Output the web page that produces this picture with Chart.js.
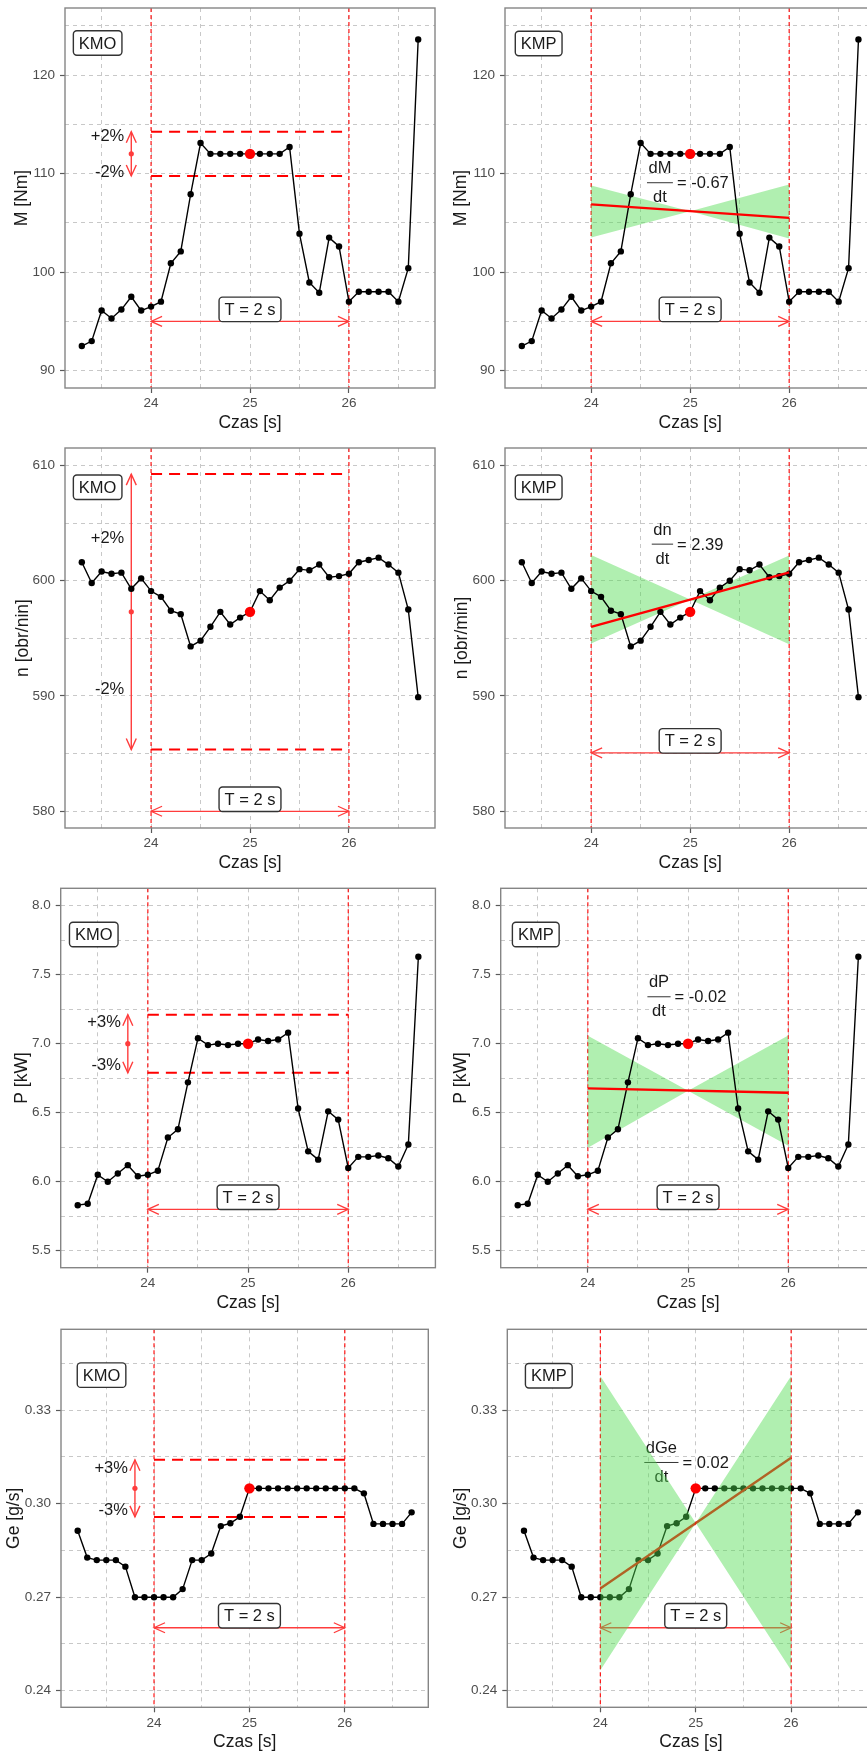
<!DOCTYPE html>
<html>
<head>
<meta charset="utf-8">
<script src="https://cdn.jsdelivr.net/npm/chart.js@4.4.1/dist/chart.umd.min.js"></script>
<style>
html,body{margin:0;padding:0;background:#fff;overflow:hidden;width:867px;height:1753px;position:relative;}
canvas{position:absolute;display:block;}
</style>
</head>
<body>
<script>
// ---------------- data ----------------
const timeMain = [23.3,23.4,23.5,23.6,23.7,23.8,23.9,24.0,24.1,24.2,24.3,24.4,24.5,24.6,24.7,24.8,24.9,25.0,25.1,25.2,25.3,25.4,25.5,25.6,25.7,25.8,25.9,26.0,26.1,26.2,26.3,26.4,26.5,26.6,26.7];
const timeGe = [23.2,23.3,23.4,23.5,23.6,23.7,23.8,23.9,24.0,24.1,24.2,24.3,24.4,24.5,24.6,24.7,24.8,24.9,25.0,25.1,25.2,25.3,25.4,25.5,25.6,25.7,25.8,25.9,26.0,26.1,26.2,26.3,26.4,26.5,26.6,26.7];

const torqueM = [92.5,93.0,96.1,95.3,96.2,97.5,96.1,96.5,97.0,100.9,102.1,107.9,113.1,112.0,112.0,112.0,112.0,112.0,112.0,112.0,112.0,112.7,103.9,98.95,97.9,103.5,102.6,97.0,98.0,98.0,98.0,98.0,97.0,100.4,123.6];
const speedN = [601.6,599.8,600.8,600.6,600.7,599.3,600.2,599.1,598.6,597.4,597.1,594.3,594.8,596.0,597.3,596.2,596.8,597.3,599.1,598.3,599.4,600.0,601.0,600.9,601.4,600.3,600.4,600.6,601.6,601.8,602.0,601.4,600.7,597.5,589.9];
const powerP = [5.83,5.84,6.05,6.00,6.06,6.12,6.04,6.05,6.08,6.32,6.38,6.72,7.04,6.99,7.00,6.99,7.00,7.00,7.03,7.02,7.03,7.08,6.53,6.22,6.16,6.51,6.45,6.10,6.18,6.18,6.19,6.17,6.11,6.27,7.63];
const fuelGe = [0.2913,0.2827,0.2819,0.2819,0.2819,0.2798,0.2700,0.2700,0.2700,0.2700,0.2700,0.2726,0.2819,0.2819,0.2840,0.2928,0.2937,0.2958,0.3049,0.3049,0.3049,0.3049,0.3049,0.3049,0.3049,0.3049,0.3049,0.3049,0.3049,0.3049,0.3033,0.2935,0.2935,0.2935,0.2935,0.2972];

const refTime = 25.0;
const windowEdges = [24, 26];

// regression lines (at x = fitX) and confidence bow-ties (at x = bandX)
const fitX = [24, 26];
const bandX = [24, 25, 26];
const fitM = [106.87, 105.5];
const bandUpM = [108.8, 106.18, 108.9];
const bandLoM = [103.5, 106.18, 103.4];
const fitN = [596.0, 600.73];
const bandUpN = [602.24, 598.37, 602.18];
const bandLoN = [594.56, 598.37, 594.48];
const fitP = [6.676, 6.645];
const bandUpP = [7.058, 6.66, 7.06];
const bandLoP = [6.246, 6.66, 6.26];
const fitGe = [0.2728, 0.3147];
const bandUpGe = [0.3409, 0.2938, 0.3409];
const bandLoGe = [0.2466, 0.2938, 0.2466];

// tick labels and grid values
const timeTicks = [24, 25, 26];
const timeTickLabels = ['24', '25', '26'];
const timeGrid = [23.5, 24, 24.5, 25, 25.5, 26, 26.5];
const mTicks = [90, 100, 110, 120];
const mTickLabels = ['90', '100', '110', '120'];
const mGrid = [90, 95, 100, 105, 110, 115, 120, 125];
const nTicks = [580, 590, 600, 610];
const nTickLabels = ['580', '590', '600', '610'];
const nGrid = [580, 585, 590, 595, 600, 605, 610];
const pTicks = [5.5, 6.0, 6.5, 7.0, 7.5, 8.0];
const pTickLabels = ['5.5', '6.0', '6.5', '7.0', '7.5', '8.0'];
const pGrid = [5.5, 5.75, 6.0, 6.25, 6.5, 6.75, 7.0, 7.25, 7.5, 7.75, 8.0];
const geTicks = [0.24, 0.27, 0.30, 0.33];
const geTickLabels = ['0.24', '0.27', '0.30', '0.33'];
const geGrid = [0.24, 0.255, 0.27, 0.285, 0.30, 0.315, 0.33, 0.345];

// ---------------- panels ----------------
const FONT = '"Liberation Sans", Arial, Helvetica, sans-serif';
const GREEN = 'rgba(80,220,80,0.45)';
const ANN_FONT = '16.5px ' + FONT;

const panels = [
  {kind:'KMO', t:timeMain, v:torqueM, yTitle:'M [Nm]', yMin:88.24, yMax:126.8, xMin:23.13, xMax:26.87,
   yTicks:mTicks, yLabels:mTickLabels, yGrid:mGrid,
   cx:0, cy:0, L:65, T:8, R:435, B:388, titleX:22,
   tagX:23.46, tagY:123.25, pct:0.02, pctText:['+2%','-2%'], pctY:[113.74,110.08], tY:95.0},
  {kind:'KMP', t:timeMain, v:torqueM, yTitle:'M [Nm]', yMin:88.24, yMax:126.8, xMin:23.13, xMax:26.87,
   yTicks:mTicks, yLabels:mTickLabels, yGrid:mGrid,
   cx:440, cy:0, L:505, T:8, R:875.3, B:388, titleX:460.7,
   tagX:23.47, tagY:123.2, fit:fitM, bandUp:bandUpM, bandLo:bandLoM, bandOnTop:false,
   num:'dM', rhs:'= -0.67', fx:24.695, fy:109.07, tY:95.0},
  {kind:'KMO', t:timeMain, v:speedN, yTitle:'n [obr/nin]', yMin:578.55, yMax:611.51, xMin:23.13, xMax:26.87,
   yTicks:nTicks, yLabels:nTickLabels, yGrid:nGrid,
   cx:0, cy:440, L:65, T:448, R:435, B:828, titleX:23,
   tagX:23.46, tagY:608.1, pct:0.02, pctText:['+2%','-2%'], pctY:[603.69,590.57], tY:580.0},
  {kind:'KMP', t:timeMain, v:speedN, yTitle:'n [obr/min]', yMin:578.55, yMax:611.51, xMin:23.13, xMax:26.87,
   yTicks:nTicks, yLabels:nTickLabels, yGrid:nGrid,
   cx:440, cy:440, L:505, T:448, R:875.3, B:828, titleX:462,
   tagX:23.47, tagY:608.1, fit:fitN, bandUp:bandUpN, bandLo:bandLoN, bandOnTop:false,
   num:'dn', rhs:'= 2.39', fx:24.72, fy:603.17, tY:585.07},
  {kind:'KMO', t:timeMain, v:powerP, yTitle:'P [kW]', yMin:5.377, yMax:8.126, xMin:23.13, xMax:26.87,
   yTicks:pTicks, yLabels:pTickLabels, yGrid:pGrid,
   cx:0, cy:880, L:60.7, T:888.3, R:435.4, B:1267.7, titleX:21.7,
   tagX:23.46, tagY:7.791, pct:0.03, pctText:['+3%','-3%'], pctY:[7.152,6.845], tY:5.80},
  {kind:'KMP', t:timeMain, v:powerP, yTitle:'P [kW]', yMin:5.377, yMax:8.126, xMin:23.13, xMax:26.87,
   yTicks:pTicks, yLabels:pTickLabels, yGrid:pGrid,
   cx:440, cy:880, L:500.7, T:888.3, R:875.4, B:1267.7, titleX:460.7,
   tagX:23.48, tagY:7.791, fit:fitP, bandUp:bandUpP, bandLo:bandLoP, bandOnTop:false,
   num:'dP', rhs:'= -0.02', fx:24.71, fy:7.34, tY:5.80},
  {kind:'KMO', t:timeGe, v:fuelGe, yTitle:'Ge [g/s]', yMin:0.2347, yMax:0.3559, xMin:23.025, xMax:26.875,
   yTicks:geTicks, yLabels:geTickLabels, yGrid:geGrid,
   cx:0, cy:1320, L:61, T:1329.3, R:428.3, B:1707.3, titleX:14,
   tagX:23.45, tagY:0.3412, pct:0.03, pctText:['+3%','-3%'], pctY:[0.3113,0.2979], tY:0.2602},
  {kind:'KMP', t:timeGe, v:fuelGe, yTitle:'Ge [g/s]', yMin:0.2347, yMax:0.3559, xMin:23.025, xMax:26.875,
   yTicks:geTicks, yLabels:geTickLabels, yGrid:geGrid,
   cx:440, cy:1320, L:507.3, T:1329.3, R:874.6, B:1707.3, titleX:460.7,
   tagX:23.46, tagY:0.341, fit:fitGe, bandUp:bandUpGe, bandLo:bandLoGe, bandOnTop:true,
   num:'dGe', rhs:'= 0.02', fx:24.64, fy:0.3132, tY:0.2602}
];

const CW = 441, CH = 440;

function near(a, b) { return Math.abs(a - b) < 1e-7; }
function labelFor(v, ticks, labels) {
  for (let i = 0; i < ticks.length; i++) if (near(v, ticks[i])) return labels[i];
  return '';
}
function gridOpts(majors) {
  return {
    color: '#c8c8c8', lineWidth: 1, drawTicks: true, tickLength: 5, tickWidth: 1.2,
    tickBorderDash: [],
    tickColor: c => (c.tick && majors.some(m => near(m, c.tick.value))) ? '#5a5a5a' : 'rgba(0,0,0,0)'
  };
}

function roundRect(ctx, x, y, w, h, r) {
  ctx.beginPath();
  ctx.moveTo(x + r, y);
  ctx.lineTo(x + w - r, y); ctx.arcTo(x + w, y, x + w, y + r, r);
  ctx.lineTo(x + w, y + h - r); ctx.arcTo(x + w, y + h, x + w - r, y + h, r);
  ctx.lineTo(x + r, y + h); ctx.arcTo(x, y + h, x, y + h - r, r);
  ctx.lineTo(x, y + r); ctx.arcTo(x, y, x + r, y, r);
  ctx.closePath();
}
function labelBox(ctx, text, cx, cy) {
  ctx.font = ANN_FONT;
  const w = ctx.measureText(text).width + 11;
  const h = 24.5;
  roundRect(ctx, cx - w / 2, cy - h / 2, w, h, 3.5);
  ctx.fillStyle = '#ffffff'; ctx.fill();
  ctx.lineWidth = 1.4; ctx.strokeStyle = '#333333'; ctx.setLineDash([]); ctx.stroke();
  ctx.fillStyle = '#1a1a1a'; ctx.textAlign = 'center'; ctx.textBaseline = 'middle';
  ctx.fillText(text, cx, cy + 1);
}
function arrowHead(ctx, tx, ty, ux, uy) {
  const len = 11, half = 5;
  const bx = tx - ux * len, by = ty - uy * len;
  ctx.beginPath();
  ctx.moveTo(bx - uy * half, by + ux * half);
  ctx.lineTo(tx, ty);
  ctx.lineTo(bx + uy * half, by - ux * half);
  ctx.stroke();
}
function doubleArrow(ctx, x1, y1, x2, y2) {
  ctx.beginPath(); ctx.moveTo(x1, y1); ctx.lineTo(x2, y2); ctx.stroke();
  const d = Math.hypot(x2 - x1, y2 - y1) || 1;
  const ux = (x2 - x1) / d, uy = (y2 - y1) / d;
  arrowHead(ctx, x2, y2, ux, uy);
  arrowHead(ctx, x1, y1, -ux, -uy);
}

function decoPlugin(p, idx) {
  return {
    id: 'deco' + idx,
    beforeDatasetsDraw(chart) {
      const ctx = chart.ctx, xs = chart.scales.x, ys = chart.scales.y, a = chart.chartArea;
      const X = v => xs.getPixelForValue(v), Y = v => ys.getPixelForValue(v);
      const ref = p.v[p.t.indexOf(refTime)];
      ctx.save();
      // analysis window edges
      ctx.strokeStyle = '#ff0000'; ctx.lineWidth = 1.1; ctx.setLineDash([4, 3]);
      windowEdges.forEach(t => { ctx.beginPath(); ctx.moveTo(X(t), a.top); ctx.lineTo(X(t), a.bottom); ctx.stroke(); });
      ctx.setLineDash([]);
      if (p.kind === 'KMO') {
        const hi = ref * (1 + p.pct), lo = ref * (1 - p.pct);
        ctx.strokeStyle = '#ff0000'; ctx.lineWidth = 2; ctx.setLineDash([11, 7]);
        [hi, lo].forEach(v => { ctx.beginPath(); ctx.moveTo(X(windowEdges[0]), Y(v)); ctx.lineTo(X(windowEdges[1]), Y(v)); ctx.stroke(); });
        ctx.setLineDash([]);
        const ax = X(23.8);
        ctx.strokeStyle = '#ff3c3c'; ctx.lineWidth = 1.4;
        doubleArrow(ctx, ax, Y(hi), ax, Y(lo));
        ctx.fillStyle = '#ff3c3c';
        ctx.beginPath(); ctx.arc(ax, Y(ref), 2.6, 0, Math.PI * 2); ctx.fill();
        ctx.font = ANN_FONT; ctx.fillStyle = '#1a1a1a'; ctx.textAlign = 'right'; ctx.textBaseline = 'middle';
        ctx.fillText(p.pctText[0], ax - 7, Y(p.pctY[0]));
        ctx.fillText(p.pctText[1], ax - 7, Y(p.pctY[1]));
      } else {
        ctx.font = ANN_FONT; ctx.fillStyle = '#1a1a1a'; ctx.textBaseline = 'middle';
        const bx = X(p.fx), by = Y(p.fy);
        const bw = Math.max(ctx.measureText(p.num).width, ctx.measureText('dt').width) + 3;
        ctx.textAlign = 'center';
        ctx.fillText(p.num, bx, by - 14);
        ctx.fillText('dt', bx, by + 15);
        ctx.strokeStyle = '#333333'; ctx.lineWidth = 1;
        ctx.beginPath(); ctx.moveTo(bx - bw / 2, by); ctx.lineTo(bx + bw / 2, by); ctx.stroke();
        ctx.textAlign = 'left';
        ctx.fillText(p.rhs, bx + bw / 2 + 4, by + 1);
      }
      // T = 2 s arrow
      ctx.strokeStyle = '#ff3c3c'; ctx.lineWidth = 1.3;
      const ty = Y(p.tY);
      doubleArrow(ctx, X(windowEdges[0]), ty, X(windowEdges[1]), ty);
      labelBox(ctx, 'T = 2 s', X(refTime), ty - 12);
      // tag
      labelBox(ctx, p.kind, X(p.tagX), Y(p.tagY));
      ctx.restore();
    },
    afterDraw(chart) {
      const ctx = chart.ctx, a = chart.chartArea;
      ctx.save();
      ctx.strokeStyle = '#858585'; ctx.lineWidth = 1.4; ctx.setLineDash([]);
      ctx.strokeRect(a.left, a.top, a.right - a.left, a.bottom - a.top);
      ctx.restore();
    }
  };
}

panels.forEach((p, idx) => {
  const canvas = document.createElement('canvas');
  canvas.width = CW; canvas.height = CH;
  canvas.style.left = p.cx + 'px'; canvas.style.top = p.cy + 'px';
  canvas.style.width = CW + 'px'; canvas.style.height = CH + 'px';
  document.body.appendChild(canvas);

  const ref = p.v[p.t.indexOf(refTime)];
  const datasets = [];
  datasets.push({ data: [{x: refTime, y: ref}], showLine: false, pointRadius: 5.2, pointBackgroundColor: '#ff0000',
    pointBorderWidth: 0, borderWidth: 0, order: 1 });
  datasets.push({ data: p.t.map((t, i) => ({x: t, y: p.v[i]})), borderColor: '#000000', borderWidth: 1.4,
    pointRadius: 3.2, pointBackgroundColor: '#000000', pointBorderWidth: 0, tension: 0, order: 3 });
  if (p.kind === 'KMP') {
    datasets.push({ data: fitX.map((t, i) => ({x: t, y: p.fit[i]})), borderColor: '#ff0000', borderWidth: 2.4,
      pointRadius: 0, order: 2 });
    const bo = p.bandOnTop ? 1.5 : 4;
    datasets.push({ data: bandX.map((t, i) => ({x: t, y: p.bandUp[i]})), borderWidth: 0, borderColor: 'rgba(0,0,0,0)',
      pointRadius: 0, fill: false, order: bo });
    datasets.push({ data: bandX.map((t, i) => ({x: t, y: p.bandLo[i]})), borderWidth: 0, borderColor: 'rgba(0,0,0,0)',
      pointRadius: 0, fill: '-1', backgroundColor: GREEN, order: bo });
  }

  const xAxisH = (p.cy + CH) - p.B;
  new Chart(canvas, {
    type: 'line',
    data: { datasets },
    options: {
      responsive: false, animation: false, events: [],
      layout: { padding: { top: p.T - p.cy, right: p.cx + CW - p.R, bottom: 0, left: 0 } },
      plugins: { legend: { display: false }, tooltip: { enabled: false } },
      scales: {
        x: {
          type: 'linear', min: p.xMin, max: p.xMax, bounds: 'data',
          afterBuildTicks: s => { s.ticks = timeGrid.map(v => ({value: v})); },
          afterFit: s => { s.height = xAxisH; s.paddingLeft = 0; s.paddingRight = 0; s.paddingTop = 0; s.paddingBottom = 0; },
          grid: gridOpts(timeTicks),
          border: { display: false, dash: [4, 4] },
          ticks: { autoSkip: false, maxRotation: 0, padding: 2.5, color: '#4d4d4d',
            font: { family: FONT, size: 13.5, lineHeight: 1.2 },
            callback: v => labelFor(v, timeTicks, timeTickLabels) },
          title: { display: true, text: 'Czas [s]', color: '#1a1a1a',
            font: { family: FONT, size: 17.5, lineHeight: 1.2 },
            padding: { top: 0, bottom: xAxisH - 35 - 10.5 } }
        },
        y: {
          type: 'linear', min: p.yMin, max: p.yMax, bounds: 'data',
          afterBuildTicks: s => { s.ticks = p.yGrid.map(v => ({value: v})); },
          afterFit: s => { s.width = p.L - p.cx; s.paddingLeft = 0; s.paddingRight = 0; s.paddingTop = 0; s.paddingBottom = 0; },
          grid: gridOpts(p.yTicks),
          border: { display: false, dash: [4, 4] },
          ticks: { autoSkip: false, padding: 5, color: '#4d4d4d',
            font: { family: FONT, size: 13.5, lineHeight: 1.2 },
            callback: v => labelFor(v, p.yTicks, p.yLabels) },
          title: { display: true, text: p.yTitle, color: '#1a1a1a',
            font: { family: FONT, size: 17.5, lineHeight: 1.2 },
            padding: { top: Math.max(0, p.titleX - p.cx - 10.5), bottom: 0 } }
        }
      }
    },
    plugins: [decoPlugin(p, idx)]
  });
});
</script>
</body>
</html>
